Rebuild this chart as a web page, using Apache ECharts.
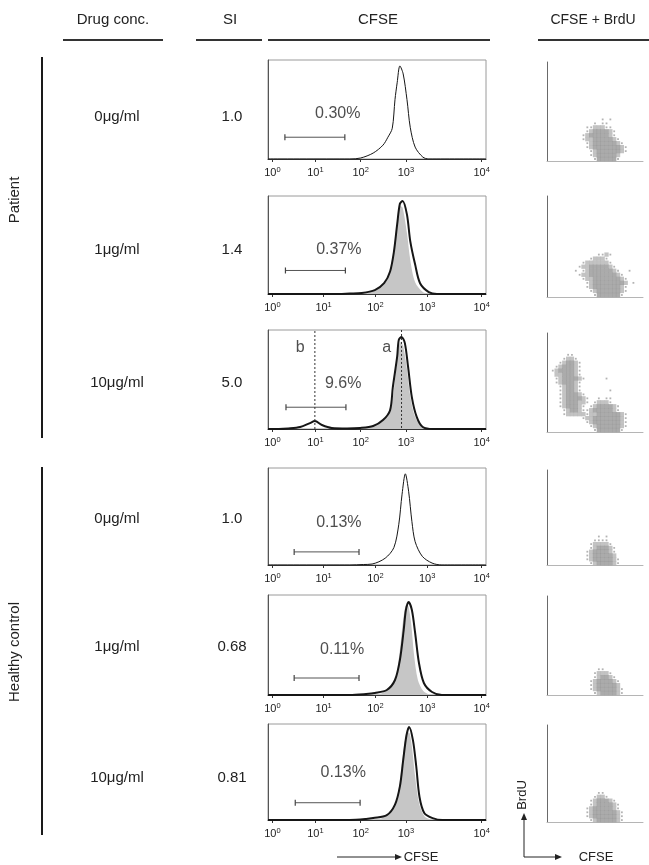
<!DOCTYPE html>
<html><head><meta charset="utf-8">
<script src="https://cdn.jsdelivr.net/npm/echarts@6/dist/echarts.min.js"></script>
<style>html,body{margin:0;padding:0;background:#fff}#c{width:649px;height:865px}</style>
</head><body><div id="c"></div>
<script>
// ---------- data ----------
const rowDrug = ['0\u03bcg/ml','1\u03bcg/ml','10\u03bcg/ml','0\u03bcg/ml','1\u03bcg/ml','10\u03bcg/ml'];
const rowSI = ['1.0','1.4','5.0','1.0','0.68','0.81'];
const gatePct = ['0.30%','0.37%','9.6%','0.13%','0.11%','0.13%'];
const tickExp = ['0','1','2','3','4'];
const tickPosUneven = [0.08, 0.87, 1.7, 2.53, 3.92];
const tickPosEven = [0.08, 1.02, 1.97, 2.92, 3.92];
// gates: [from log, to log, height %]
const gates = [[0.31,1.41,22],[0.32,1.42,24],[0.33,1.43,22],[0.48,1.67,13.5],[0.48,1.67,17],[0.50,1.69,18]];
// markers in panel 3 (log CFSE)
const markerA = 2.45, markerB = 0.86;
// histogram outlines [log10 CFSE, % of max]
const h1 = [[0,0],[1.5,0],[1.7,1],[1.93,6],[2.11,14],[2.2,22],[2.28,31],[2.33,60],[2.37,77],[2.42,94],[2.48,86],[2.55,60],[2.61,32],[2.7,12],[2.84,2],[2.95,0],[4,0]];
const h2 = [[0,0],[1.2,0],[1.5,0.5],[1.72,1],[1.96,4],[2.13,11],[2.24,23],[2.31,43],[2.37,71],[2.42,92],[2.47,95],[2.55,81],[2.61,54],[2.7,30],[2.79,11],[2.95,2],[3.1,0],[4,0]];
const h3 = [[0,0],[0.2,0],[0.37,0.5],[0.59,2],[0.77,6],[0.86,8],[0.99,4],[1.17,1],[1.45,0.5],[1.69,1],[1.93,3],[2.11,9],[2.24,19],[2.29,42],[2.37,73],[2.4,90],[2.45,93],[2.51,87],[2.57,63],[2.64,32],[2.73,12],[2.84,2],[3.03,0],[4,0]];
const h4 = [[0,0],[1.5,0],[1.75,0.5],[1.91,1],[2.15,7],[2.31,18],[2.4,42],[2.46,73],[2.52,94],[2.58,76],[2.64,45],[2.7,24],[2.83,9],[3.01,2],[3.19,0],[4,0]];
const h5 = [[0,0],[1.5,0],[1.8,1],[1.96,2],[2.18,5],[2.33,15],[2.42,35],[2.49,65],[2.53,85],[2.58,93],[2.64,85],[2.7,62],[2.77,32],[2.86,12],[3.01,3],[3.19,0],[4,0]];
const h6 = [[0,0],[1.5,0],[1.8,1],[1.93,2],[2.18,5],[2.33,16],[2.42,35],[2.48,62],[2.54,88],[2.59,97],[2.66,83],[2.72,56],[2.78,24],[2.87,7],[3.02,2],[3.2,0],[4,0]];
// grey filled control profiles
const f2 = [[1.7,0],[1.93,3],[2.11,10],[2.2,18],[2.28,30],[2.33,55],[2.37,75],[2.42,90],[2.47,88],[2.55,62],[2.61,35],[2.7,12],[2.84,2],[2.95,0]];
const f3 = [[1.7,0],[1.93,3],[2.11,9],[2.2,16],[2.28,28],[2.33,50],[2.38,75],[2.43,88],[2.48,84],[2.55,60],[2.61,33],[2.7,12],[2.84,2],[2.95,0]];
const f5 = [[1.9,0],[2.1,2],[2.25,8],[2.35,20],[2.42,45],[2.48,75],[2.54,90],[2.58,88],[2.63,70],[2.68,40],[2.75,15],[2.85,4],[2.98,0]];
const f6 = [[1.9,0],[2.1,2],[2.25,7],[2.35,18],[2.43,45],[2.5,78],[2.56,92],[2.6,90],[2.65,72],[2.7,45],[2.77,18],[2.87,4],[3.0,0]];
// CFSE x BrdU density maps (rows from bottom, 4-unit cells; '#' dense, '+' medium, '.' sparse)
const d1 = [
"            .#####.",
"           .+#####+",
"           .+######+.",
"          .+#######+.",
"          .+######+.",
"         .++#####+.",
"         .+#####+.",
"          .+####+.",
"          ..+++..",
"            . ..",
"              . ."];
const d2 = [
"            .######.",
"           .+######+.",
"          .+#######+.",
"          .+########+ .",
"         .++#######+.",
"        .++#######+.",
"       . .+######+.  .",
"        .++#####+.",
"         .++++++.",
"           .+++.",
"             ..+."];
const d3 = [
"            .######.",
"           .+######+.",
"          .+#######+.",
"         .++#######+.",
"    .+++++.++######+.",
"    .+##+..+#####+.",
"   .+###+. .+####+.",
"   .+###++. .+++.",
"   .+####+.  . ..",
"   .+###+.",
"   .+##+.       .",
"   .+##+.",
"  .+###+.",
"  .+####+.     .",
"  ++###+.",
" .+####+.",
"  .+###+.",
"   .+##+.",
"    .++.",
"     .."];
const d4 = [
"           .+####+.",
"          .+#####+.",
"          .+#####+",
"          .+####+.",
"           .+###+.",
"           .++++.",
"            ....",
"             . ."];
const d5 = [
"            .+####+.",
"           .+#####+.",
"           .+#####+",
"           .+####+.",
"            .+##+.",
"            .+++.",
"             .."];
const d6 = [
"           .+#####+.",
"          .+######+.",
"          .+######+.",
"          .+#####+.",
"           .+####+.",
"           .+###+.",
"            .++.",
"             .."];

// ---------- layout ----------
const histLines = [h1,h2,h3,h4,h5,h6];
const histFills = [null,f2,f3,null,f5,f6];
const lineW = [1,2,2,1,2,2];
const tickSets = [tickPosUneven,tickPosEven,tickPosUneven,tickPosEven,tickPosEven,tickPosUneven];
const dens = [d1,d2,d3,d4,d5,d6];
const hLay = [[60,99],[196,98],[330,99],[468,97],[595,100],[724,96]];
const sLay = [[62,99],[196,101],[333,99],[470,95],[596,99],[725,97]];
const pctPos = [[1.28,46],[1.30,45],[1.38,46],[1.30,44],[1.36,45],[1.38,49]];
const rowY = [117,250,383,519,647,778];
const FONT = '"Liberation Sans", Arial, sans-serif';

const grids=[], xAxes=[], yAxes=[], series=[];
for (let i=0;i<6;i++){
  grids.push({left:268, top:hLay[i][0], width:218, height:hLay[i][1], show:true, borderColor:'#9a9a9a', borderWidth:1});
  const tp = tickSets[i];
  xAxes.push({gridIndex:i, type:'value', min:0, max:4,
    axisLine:{show:true, lineStyle:{color:'#333', width:1}},
    axisTick:{show:true, customValues:tp, length:3, lineStyle:{color:'#333'}},
    splitLine:{show:false},
    axisLabel:{show:true, customValues:tp, color:'#222', fontSize:11, fontFamily:FONT, margin:7,
      formatter:(v)=>{const k=tp.findIndex(p=>Math.abs(p-v)<1e-6); return '10{s|'+tickExp[k<0?0:k]+'}';},
      rich:{s:{fontSize:7.5, fontFamily:FONT, color:'#222', padding:[0,0,6,0]}}}
  });
  yAxes.push({gridIndex:i, type:'value', min:0, max:100, show:true,
    axisLine:{show:true, lineStyle:{color:'#555'}}, axisTick:{show:false}, axisLabel:{show:false}, splitLine:{show:false}});
  if (histFills[i]) series.push({type:'line', xAxisIndex:i, yAxisIndex:i, data:histFills[i], smooth:0.3, symbol:'none',
    lineStyle:{width:0}, areaStyle:{color:'#c6c6c6', opacity:1}, silent:true, z:2});
  series.push({type:'line', xAxisIndex:i, yAxisIndex:i, data:histLines[i], smooth:0.3, symbol:'none',
    lineStyle:{color:'#161616', width:lineW[i]}, silent:true, z:3});
  const g=gates[i];
  series.push({type:'line', xAxisIndex:i, yAxisIndex:i, data:[[g[0],g[2]],[g[1],g[2]]], symbol:'rect', symbolSize:[1.2,6],
    itemStyle:{color:'#444'}, lineStyle:{color:'#555', width:1}, silent:true, z:4});
  series.push({type:'scatter', xAxisIndex:i, yAxisIndex:i, data:[pctPos[i]], symbolSize:1, itemStyle:{color:'rgba(0,0,0,0)'},
    label:{show:true, position:'inside', formatter:gatePct[i], fontSize:16, fontFamily:FONT, color:'#222'}, silent:true, z:5});
}
// markers a / b in panel 3
series.push({type:'line', xAxisIndex:2, yAxisIndex:2, data:[[markerB,0],[markerB,100]], symbol:'none',
  lineStyle:{color:'#333', width:1, type:[2,2]}, silent:true, z:4});
series.push({type:'line', xAxisIndex:2, yAxisIndex:2, data:[[markerA,-3],[markerA,100]], symbol:'none',
  lineStyle:{color:'#333', width:1, type:[2,2]}, silent:true, z:4});
series.push({type:'scatter', xAxisIndex:2, yAxisIndex:2, data:[[markerB-0.27,82,'b'],[markerA-0.27,82,'a']], symbolSize:1,
  itemStyle:{color:'rgba(0,0,0,0)'}, label:{show:true, position:'inside', formatter:p=>p.value[2], fontSize:16, fontFamily:FONT, color:'#222'}, silent:true, z:5});

// scatter density panels
const densStyle = {'#':{c:'#969696',s:4.3}, '+':{c:'#b4b4b4',s:4.3}, '.':{c:'#a0a0a0',s:1.8}};
for (let i=0;i<6;i++){
  const gi=6+i;
  grids.push({left:547, top:sLay[i][0], width:96, height:sLay[i][1]});
  xAxes.push({gridIndex:gi, type:'value', min:0, max:100, axisLine:{show:true, lineStyle:{color:'#b5b5b5'}}, axisTick:{show:false}, axisLabel:{show:false}, splitLine:{show:false}});
  yAxes.push({gridIndex:gi, type:'value', min:0, max:100, axisLine:{show:true, lineStyle:{color:'#6a6a6a'}}, axisTick:{show:false}, axisLabel:{show:false}, splitLine:{show:false}});
  for (const ch of ['+','#','.']){
    const pts=[];
    dens[i].forEach((row,r)=>{ for(let c=0;c<row.length;c++){ if(row[c]===ch) pts.push([c*4+2, r*4+2]); } });
    series.push({type:'scatter', xAxisIndex:gi, yAxisIndex:gi, data:pts, symbol:'rect', symbolSize:densStyle[ch].s,
      itemStyle:{color:densStyle[ch].c}, silent:true});
  }
}

// ---------- static text / lines ----------
const T = (text,x,y,size,extra)=>Object.assign({type:'text', x, y, style:{text, fill:'#222', font:size+'px '+FONT, align:'center', verticalAlign:'middle'}}, extra||{});
const L = (x1,y1,x2,y2,w,col)=>({type:'line', shape:{x1,y1,x2,y2}, style:{stroke:col||'#222', lineWidth:w||1}});
const graphic = [
  T('Drug conc.',113,20,15), T('SI',230,20,15), T('CFSE',378,20,15), T('CFSE + BrdU',593,20,14),
  L(63,40,163,40,2,'#333'), L(196,40,262,40,2,'#333'), L(268,40,490,40,2,'#333'), L(538,40,649,40,2,'#333'),
  L(42,57,42,438,2,'#1a1a1a'), L(42,467,42,835,2,'#1a1a1a'),
  T('Patient',15,200,15,{rotation:Math.PI/2}), T('Healthy control',15,652,15,{rotation:Math.PI/2}),
  L(337,857,396,857,1,'#222'), {type:'polygon', shape:{points:[[402,857],[395,854],[395,860]]}, style:{fill:'#222'}},
  T('CFSE',421,857,13),
  L(524,857,524,819,1,'#222'), {type:'polygon', shape:{points:[[524,813],[521,820],[527,820]]}, style:{fill:'#222'}},
  L(524,857,556,857,1,'#222'), {type:'polygon', shape:{points:[[562,857],[555,854],[555,860]]}, style:{fill:'#222'}},
  T('CFSE',596,857,13), T('BrdU',522,795,13,{rotation:Math.PI/2})
];
for (let i=0;i<6;i++){
  graphic.push(T(rowDrug[i],117,rowY[i],15));
  graphic.push(T(rowSI[i],232,rowY[i],15));
}

const chart = echarts.init(document.getElementById('c'), null, {renderer:'canvas'});
chart.setOption({animation:false, backgroundColor:'#fff', grid:grids, xAxis:xAxes, yAxis:yAxes, series, graphic});
</script></body></html>
